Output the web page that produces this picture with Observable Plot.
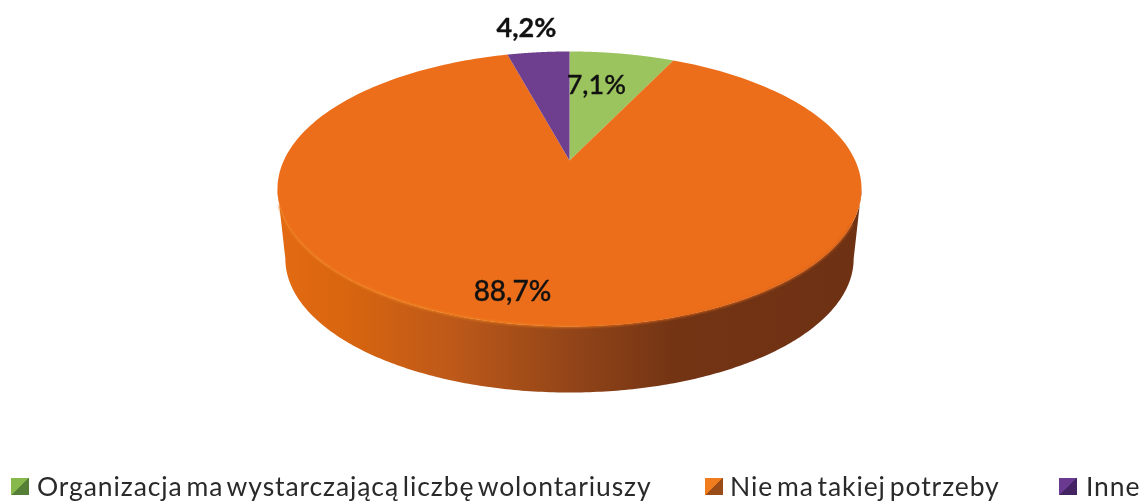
<!DOCTYPE html>
<html><head><meta charset="utf-8">
<script src="https://cdn.jsdelivr.net/npm/d3@7"></script>
<script src="https://cdn.jsdelivr.net/npm/@observablehq/plot@0.6"></script>
<style>
html,body{margin:0;padding:0;background:#fff;overflow:hidden}
#chart svg{display:block;filter:blur(.45px)}
#legend{position:relative;height:41px;width:1140px;font-family:Lato,sans-serif;font-size:26.5px;color:#2a2a2a;filter:blur(.45px)}
#legend .sw{position:absolute;top:18px;width:18px;height:17px}
#legend .tx{position:absolute;top:11px;line-height:30px;white-space:nowrap;letter-spacing:.9px;word-spacing:-3.8px}
</style></head><body>
<div id="chart"></div><div id="legend"></div>
<script>
const categories = ["Organizacja ma wystarczającą liczbę wolontariuszy", "Nie ma takiej potrzeby", "Inne"];
const percents = [7.1, 88.7, 4.2];
const labels = ["7,1%", "88,7%", "4,2%"];
const colors = ["#9bc45e", "#ec6e1a", "#6f3f8f"];
const swatchLight = ["#86b84c", "#f07c1e", "#6a3a90"];
const swatchDark = ["#557f36", "#9a4d18", "#442463"];

const W = 1140, H = 460;
const cx = 569, k = 0.207;
const topFace = {A: 285.7, B: 131.6, y0: 160};
const baseFace = {A: 278, B: 128, y0: 230.6};
// perspective view of a point on the disc
const project = (theta, r, f) => {
  const w = 1 + k * r * Math.cos(theta);
  return {x: cx + f.A * r * Math.sin(theta) / w, y: f.y0 - f.B * r * Math.cos(theta) / w};
};
const arc = (a, b, f, n = 240) => d3.range(n + 1).map(i => project(a + (b - a) * i / n, 1, f));

const total = d3.sum(percents);
let acc = 0;
const slices = categories.map((category, i) => {
  const start = acc / total * 2 * Math.PI;
  acc += percents[i];
  const end = acc / total * 2 * Math.PI;
  return {category, label: labels[i], start, end};
});
const slicePoints = slices.flatMap(s =>
  [project(0, 0, topFace), ...arc(s.start, s.end, topFace)].map(p => ({...p, category: s.category})));

// silhouette angles: where the rim is widest
const sil = Math.acos(-k);
const wall = [...arc(sil, 2 * Math.PI - sil, topFace), ...arc(2 * Math.PI - sil, sil, baseFace)];
const rim = arc(sil + 0.25, 2 * Math.PI - sil - 0.12, topFace);

const labelSpec = [{r: 0.66, dx: -10, w: 500, s: 27}, {r: 0.83, dx: -31, w: 500, s: 28}, {r: 1.28, dx: -5, w: 700, s: 27}];
const labelData = slices.map((s, i) => {
  const p = project((s.start + s.end) / 2, labelSpec[i].r, topFace);
  return {...p, x: p.x + labelSpec[i].dx, label: s.label, weight: labelSpec[i].w, size: labelSpec[i].s};
});

const defs = () => {
  const g = document.createElementNS("http://www.w3.org/2000/svg", "g");
  g.innerHTML = `<defs>
  <linearGradient id="wallG" gradientUnits="userSpaceOnUse" x1="277" y1="0" x2="861" y2="0">
    <stop offset="0" stop-color="#e36a12"/><stop offset=".12" stop-color="#d8650f"/>
    <stop offset=".3" stop-color="#bd5919"/><stop offset=".5" stop-color="#934518"/>
    <stop offset=".68" stop-color="#733414"/><stop offset="1" stop-color="#6e3113"/>
  </linearGradient>
  <linearGradient id="rimG" gradientUnits="userSpaceOnUse" x1="277" y1="0" x2="861" y2="0">
    <stop offset="0" stop-color="#ee7a1c"/><stop offset=".2" stop-color="#f2861f"/><stop offset=".45" stop-color="#f0801e"/>
    <stop offset=".62" stop-color="#ec6e1a"/><stop offset="1" stop-color="#d2611a"/>
  </linearGradient></defs>`;
  return g;
};

const labelMark = (i) => Plot.text([labelData[i]], {
  x: "x", y: "y", text: "label", fontSize: labelData[i].size, fontFamily: "Lato, sans-serif",
  fontWeight: labelData[i].weight, fill: "#111", stroke: "#111", strokeWidth: 0.35, textAnchor: "middle"
});

const chart = Plot.plot({
  width: W, height: H, margin: 0,
  style: {background: "#fff"},
  x: {domain: [0, W], range: [0, W], axis: null},
  y: {domain: [0, H], range: [0, H], axis: null},
  color: {type: "ordinal", domain: categories, range: colors},
  marks: [
    defs,
    Plot.line(wall, {x: "x", y: "y", fill: "url(#wallG)", stroke: "none"}),
    Plot.line(slicePoints, {x: "x", y: "y", z: "category", fill: "category", stroke: "none"}),
    Plot.line(rim, {x: "x", y: "y", stroke: "url(#rimG)", strokeWidth: 2.5, strokeOpacity: 0.7, imageFilter: "blur(1px)"}),
    labelMark(0), labelMark(1), labelMark(2)
  ]
});
document.getElementById("chart").append(chart);

const swLeft = [11, 705, 1059], txLeft = [37, 730, 1086];
const legend = d3.select("#legend");
categories.forEach((c, i) => {
  legend.append("div").attr("class", "sw").style("left", swLeft[i] + "px")
    .style("background", `linear-gradient(to bottom right, ${swatchLight[i]} 50%, ${swatchDark[i]} 50%)`);
  legend.append("div").attr("class", "tx").style("left", txLeft[i] + "px").text(c);
});
</script>
</body></html>
